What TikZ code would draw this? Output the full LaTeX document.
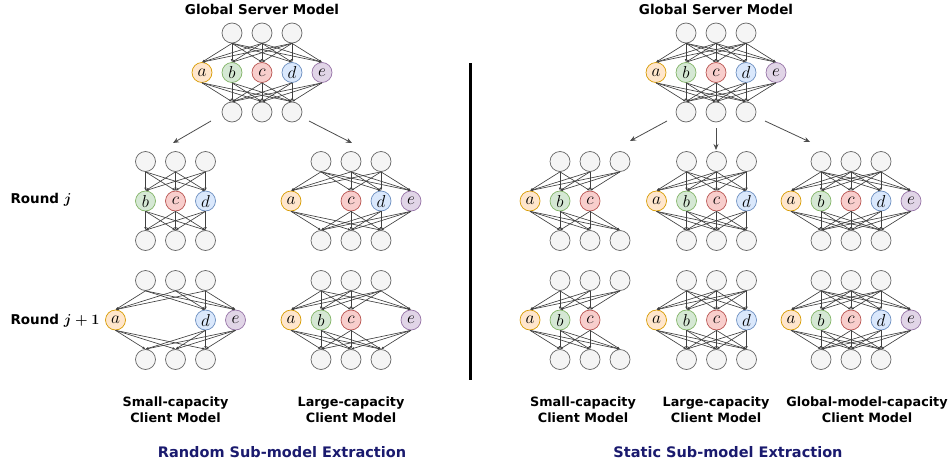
\documentclass[tikz,border=0pt]{standalone}
\usepackage{fontspec}
\setmainfont{DejaVu Sans}
\usepackage{tikz}
\usetikzlibrary{arrows.meta,positioning}
\definecolor{unitfill}{HTML}{F5F5F5}
\definecolor{unitdraw}{HTML}{666666}
\definecolor{fa}{HTML}{FFE6CC}\definecolor{da}{HTML}{D79B00}
\definecolor{fb}{HTML}{D5E8D4}\definecolor{db}{HTML}{82B366}
\definecolor{fc}{HTML}{F8CECC}\definecolor{dc}{HTML}{B85450}
\definecolor{fd}{HTML}{DAE8FC}\definecolor{dd}{HTML}{6C8EBF}
\definecolor{fe}{HTML}{E1D5E7}\definecolor{de}{HTML}{9673A6}
\definecolor{titleblue}{HTML}{1A1A6E}
\tikzset{unit/.style={draw=unitdraw,fill=unitfill,circle,minimum size=20pt,inner sep=0pt,
    line width=0.7pt,font=\fontsize{16}{16}\selectfont},
  link/.style={draw=black!75,line width=0.65pt,-{Latex[length=3pt,width=2.6pt]}},
  pass/.style={draw=black!70,line width=0.8pt,-{Stealth[length=6pt,width=5pt]}},
  heading/.style={font=\fontsize{13.5}{16}\selectfont\bfseries},
  roundlabel/.style={font=\fontsize{13.5}{16}\selectfont\bfseries\mathversion{bold},anchor=west},
  caption/.style={font=\fontsize{12.8}{16}\selectfont\bfseries,align=center},
  extraction/.style={font=\fontsize{14.5}{17}\selectfont\bfseries,text=titleblue}}
% one network: name, x centre, y of top row, hidden units (letter/offset)
\newcommand{\clientnet}[4]{%
  \foreach \i in {1,2,3}
    \node[unit] (#1t\i) at ({#2+30*\i-60},#3) {};
  \foreach \m/\o in {#4}
    \node[unit,fill=f\m,draw=d\m] (#1\m) at ({#2+\o},{#3+39.5}) {$\m$};
  \foreach \i in {1,2,3}
    \node[unit] (#1b\i) at ({#2+30*\i-60},{#3+79}) {};
  \foreach \m/\o in {#4}
    \foreach \i in {1,2,3} {
      \draw[link] (#1t\i.south) -- (#1\m.north);
      \draw[link] (#1\m.south) -- (#1b\i.north);
    }
}
\begin{document}
\begin{tikzpicture}[x=1pt,y=-1pt]
\useasboundingbox (0,0) rectangle (949,463);

% random sub-model extraction
\node[heading] (gtitleL) at (262,9) {Global Server Model};
\clientnet{gl}{262}{33}{a/-60,b/-30,c/0,d/30,e/60}
\clientnet{rjs}{175.5}{161.5}{b/-30,c/0,d/30}
\clientnet{rjl}{351}{161.5}{a/-60,c/0,d/30,e/60}
\clientnet{rks}{175.5}{280.5}{a/-60,d/30,e/60}
\clientnet{rkl}{351}{280.5}{a/-60,b/-30,c/0,e/60}
\coordinate (glA) at (211,121); \coordinate (glB) at (173,143);
\coordinate (glC) at (309,121); \coordinate (glD) at (352,143);
\draw[pass] (glA) -- (glB);
\draw[pass] (glC) -- (glD);
\node[roundlabel] (roundj) at (7,200) {Round $j$};
\node[roundlabel] (roundk) at (7,321) {Round $j+1$};
\node[caption] (capRs) at (175.5,410) {Small-capacity\\Client Model};
\node[caption] (capRl) at (351,410) {Large-capacity\\Client Model};
\node[extraction] (ttlR) at (282,452) {Random Sub-model Extraction};

% divider
\coordinate (divtop) at (470,63); \coordinate (divbot) at (470,380);
\draw[line width=3pt] (divtop) -- (divbot);

% static sub-model extraction
\node[heading] (gtitleR) at (716,9) {Global Server Model};
\clientnet{gr}{716}{33}{a/-60,b/-30,c/0,d/30,e/60}
\clientnet{sjs}{590}{161.5}{a/-60,b/-30,c/0}
\clientnet{sjl}{716.5}{161.5}{a/-60,b/-30,c/0,d/30}
\clientnet{sjg}{851}{161.5}{a/-60,b/-30,c/0,d/30,e/60}
\clientnet{sks}{590}{280.5}{a/-60,b/-30,c/0}
\clientnet{skl}{716.5}{280.5}{a/-60,b/-30,c/0,d/30}
\clientnet{skg}{851}{280.5}{a/-60,b/-30,c/0,d/30,e/60}
\coordinate (grA) at (667,121); \coordinate (grB) at (630,141);
\coordinate (grC) at (716,128); \coordinate (grD) at (716,150);
\coordinate (grE) at (765,121); \coordinate (grF) at (810,142);
\draw[pass] (grA) -- (grB);
\draw[pass] (grC) -- (grD);
\draw[pass] (grE) -- (grF);
\node[caption] (capSs) at (583,410) {Small-capacity\\Client Model};
\node[caption] (capSl) at (716,410) {Large-capacity\\Client Model};
\node[caption] (capSg) at (867,410) {Global-model-capacity\\Client Model};
\node[extraction] (ttlS) at (728,452) {Static Sub-model Extraction};
\end{tikzpicture}
\end{document}
